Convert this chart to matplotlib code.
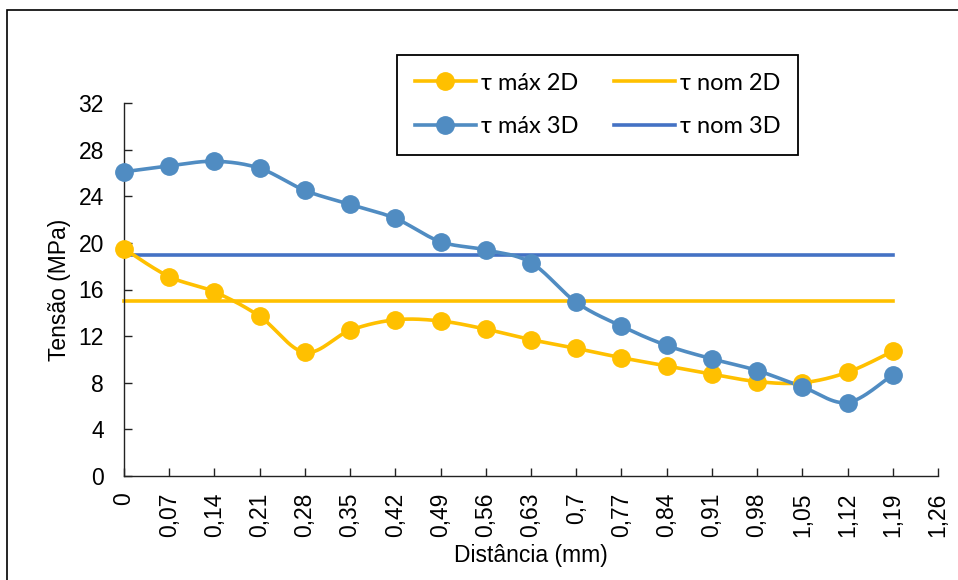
import numpy as np
import matplotlib.pyplot as plt
from matplotlib.patches import Rectangle

# distance along the section [mm] and shear stress [MPa]
dist = [0, 0.07, 0.14, 0.21, 0.28, 0.35, 0.42, 0.49, 0.56, 0.63,
        0.7, 0.77, 0.84, 0.91, 0.98, 1.05, 1.12, 1.19]
tau_max_2d = [19.5, 17.1, 15.8, 13.7, 10.6, 12.5, 13.4, 13.3, 12.6, 11.7,
              10.95, 10.15, 9.45, 8.75, 8.1, 8.0, 8.9, 10.7]
tau_max_3d = [26.1, 26.6, 27.0, 26.4, 24.5, 23.3, 22.1, 20.1, 19.4, 18.3,
              14.9, 12.85, 11.2, 10.05, 9.05, 7.65, 6.3, 8.7]
tau_nom_2d = 15
tau_nom_3d = 19

xticks = [round(i * 0.07, 2) for i in range(19)]
yticks = list(range(0, 33, 4))

yellow = '#FFC000'
blue_pts = '#508CC2'
blue_nom = '#4472C4'


def smooth(x, y, n=30):
    # excel style smoothed line: bezier segments with catmull-rom handles
    x = np.asarray(x, float)
    y = np.asarray(y, float)
    px = np.concatenate([[x[0]], x, [x[-1]]])
    py = np.concatenate([[y[0]], y, [y[-1]]])
    t = np.linspace(0, 1, n)[:, None]
    out = []
    for i in range(1, len(px) - 2):
        p0 = np.array([px[i - 1], py[i - 1]])
        p1 = np.array([px[i], py[i]])
        p2 = np.array([px[i + 1], py[i + 1]])
        p3 = np.array([px[i + 2], py[i + 2]])
        c1 = p1 + (p2 - p0) / 6
        c2 = p2 - (p3 - p1) / 6
        seg = ((1 - t) ** 3) * p1 + 3 * ((1 - t) ** 2) * t * c1 + 3 * (1 - t) * t ** 2 * c2 + t ** 3 * p2
        out.append(seg if i == 1 else seg[1:])
    out = np.vstack(out)
    return out[:, 0], out[:, 1]


plt.rcParams['font.family'] = ['Liberation Sans', 'DejaVu Sans']

fig = plt.figure(figsize=(9.58, 5.8), dpi=100)
ax = fig.add_axes([124 / 958, 1 - 476 / 580, (938 - 124) / 958, (476 - 103) / 580])

lw = 2.6
ms = 12.5

sx, sy = smooth(dist, tau_max_2d)
ax.plot(sx, sy, color=yellow, lw=lw, zorder=3)
ax.plot(dist, tau_max_2d, 'o', color=yellow, ms=ms, zorder=4)
ax.plot([dist[0], dist[-1]], [tau_nom_2d] * 2, color=yellow, lw=lw, zorder=2)

sx, sy = smooth(dist, tau_max_3d)
ax.plot(sx, sy, color=blue_pts, lw=lw, zorder=3)
ax.plot(dist, tau_max_3d, 'o', color=blue_pts, ms=ms, zorder=4)
ax.plot([dist[0], dist[-1]], [tau_nom_3d] * 2, color=blue_nom, lw=lw, zorder=2)

ax.set_xlim(0, 1.26)
ax.set_ylim(0, 32)
ax.set_xticks(xticks)
ax.set_xticklabels([f'{v:g}'.replace('.', ',') for v in xticks], rotation=90)
ax.set_yticks(yticks)
for side in ['top', 'right']:
    ax.spines[side].set_visible(False)
for side in ['left', 'bottom']:
    ax.spines[side].set_color('#222222')
    ax.spines[side].set_linewidth(1.0)
ax.tick_params(direction='in', length=6, width=1.0, colors='#222222', labelsize=16.5, labelcolor='black')
ax.tick_params(axis='x', pad=12)
ax.tick_params(axis='y', pad=14.5)
for ln in ax.lines:
    ln.set_clip_on(False)

ax.set_ylabel('Tensão (MPa)', fontsize=16.5, labelpad=5)
ax.set_xlabel('Distância (mm)', fontsize=16.5, labelpad=5)

h1, = ax.plot([], [], '-o', color=yellow, lw=lw, ms=ms)
h2, = ax.plot([], [], '-', color=yellow, lw=lw)
h3, = ax.plot([], [], '-o', color=blue_pts, lw=lw, ms=ms)
h4, = ax.plot([], [], '-', color=blue_nom, lw=lw)
leg = fig.legend([h1, h3, h2, h4], ['τ máx 2D', 'τ máx 3D', 'τ nom 2D', 'τ nom 3D'],
                 ncol=2, loc='upper left', bbox_to_anchor=(397 / 958, 1 - 55 / 580),
                 prop={'family': ['Lato', 'DejaVu Sans'], 'size': 17},
                 frameon=True, fancybox=False, edgecolor='black', framealpha=1,
                 handlelength=2.6, handletextpad=0.2, columnspacing=1.5,
                 labelspacing=0.95, borderpad=0.75, borderaxespad=0)
leg.get_frame().set_linewidth(1.3)

# outer chart border
fig.patches.append(Rectangle((7 / 958, -0.05), 1.1, 1 - 10 / 580 + 0.05,
                             transform=fig.transFigure, fill=False,
                             edgecolor='black', lw=1.2))

fig.savefig('out.png', dpi=100)
